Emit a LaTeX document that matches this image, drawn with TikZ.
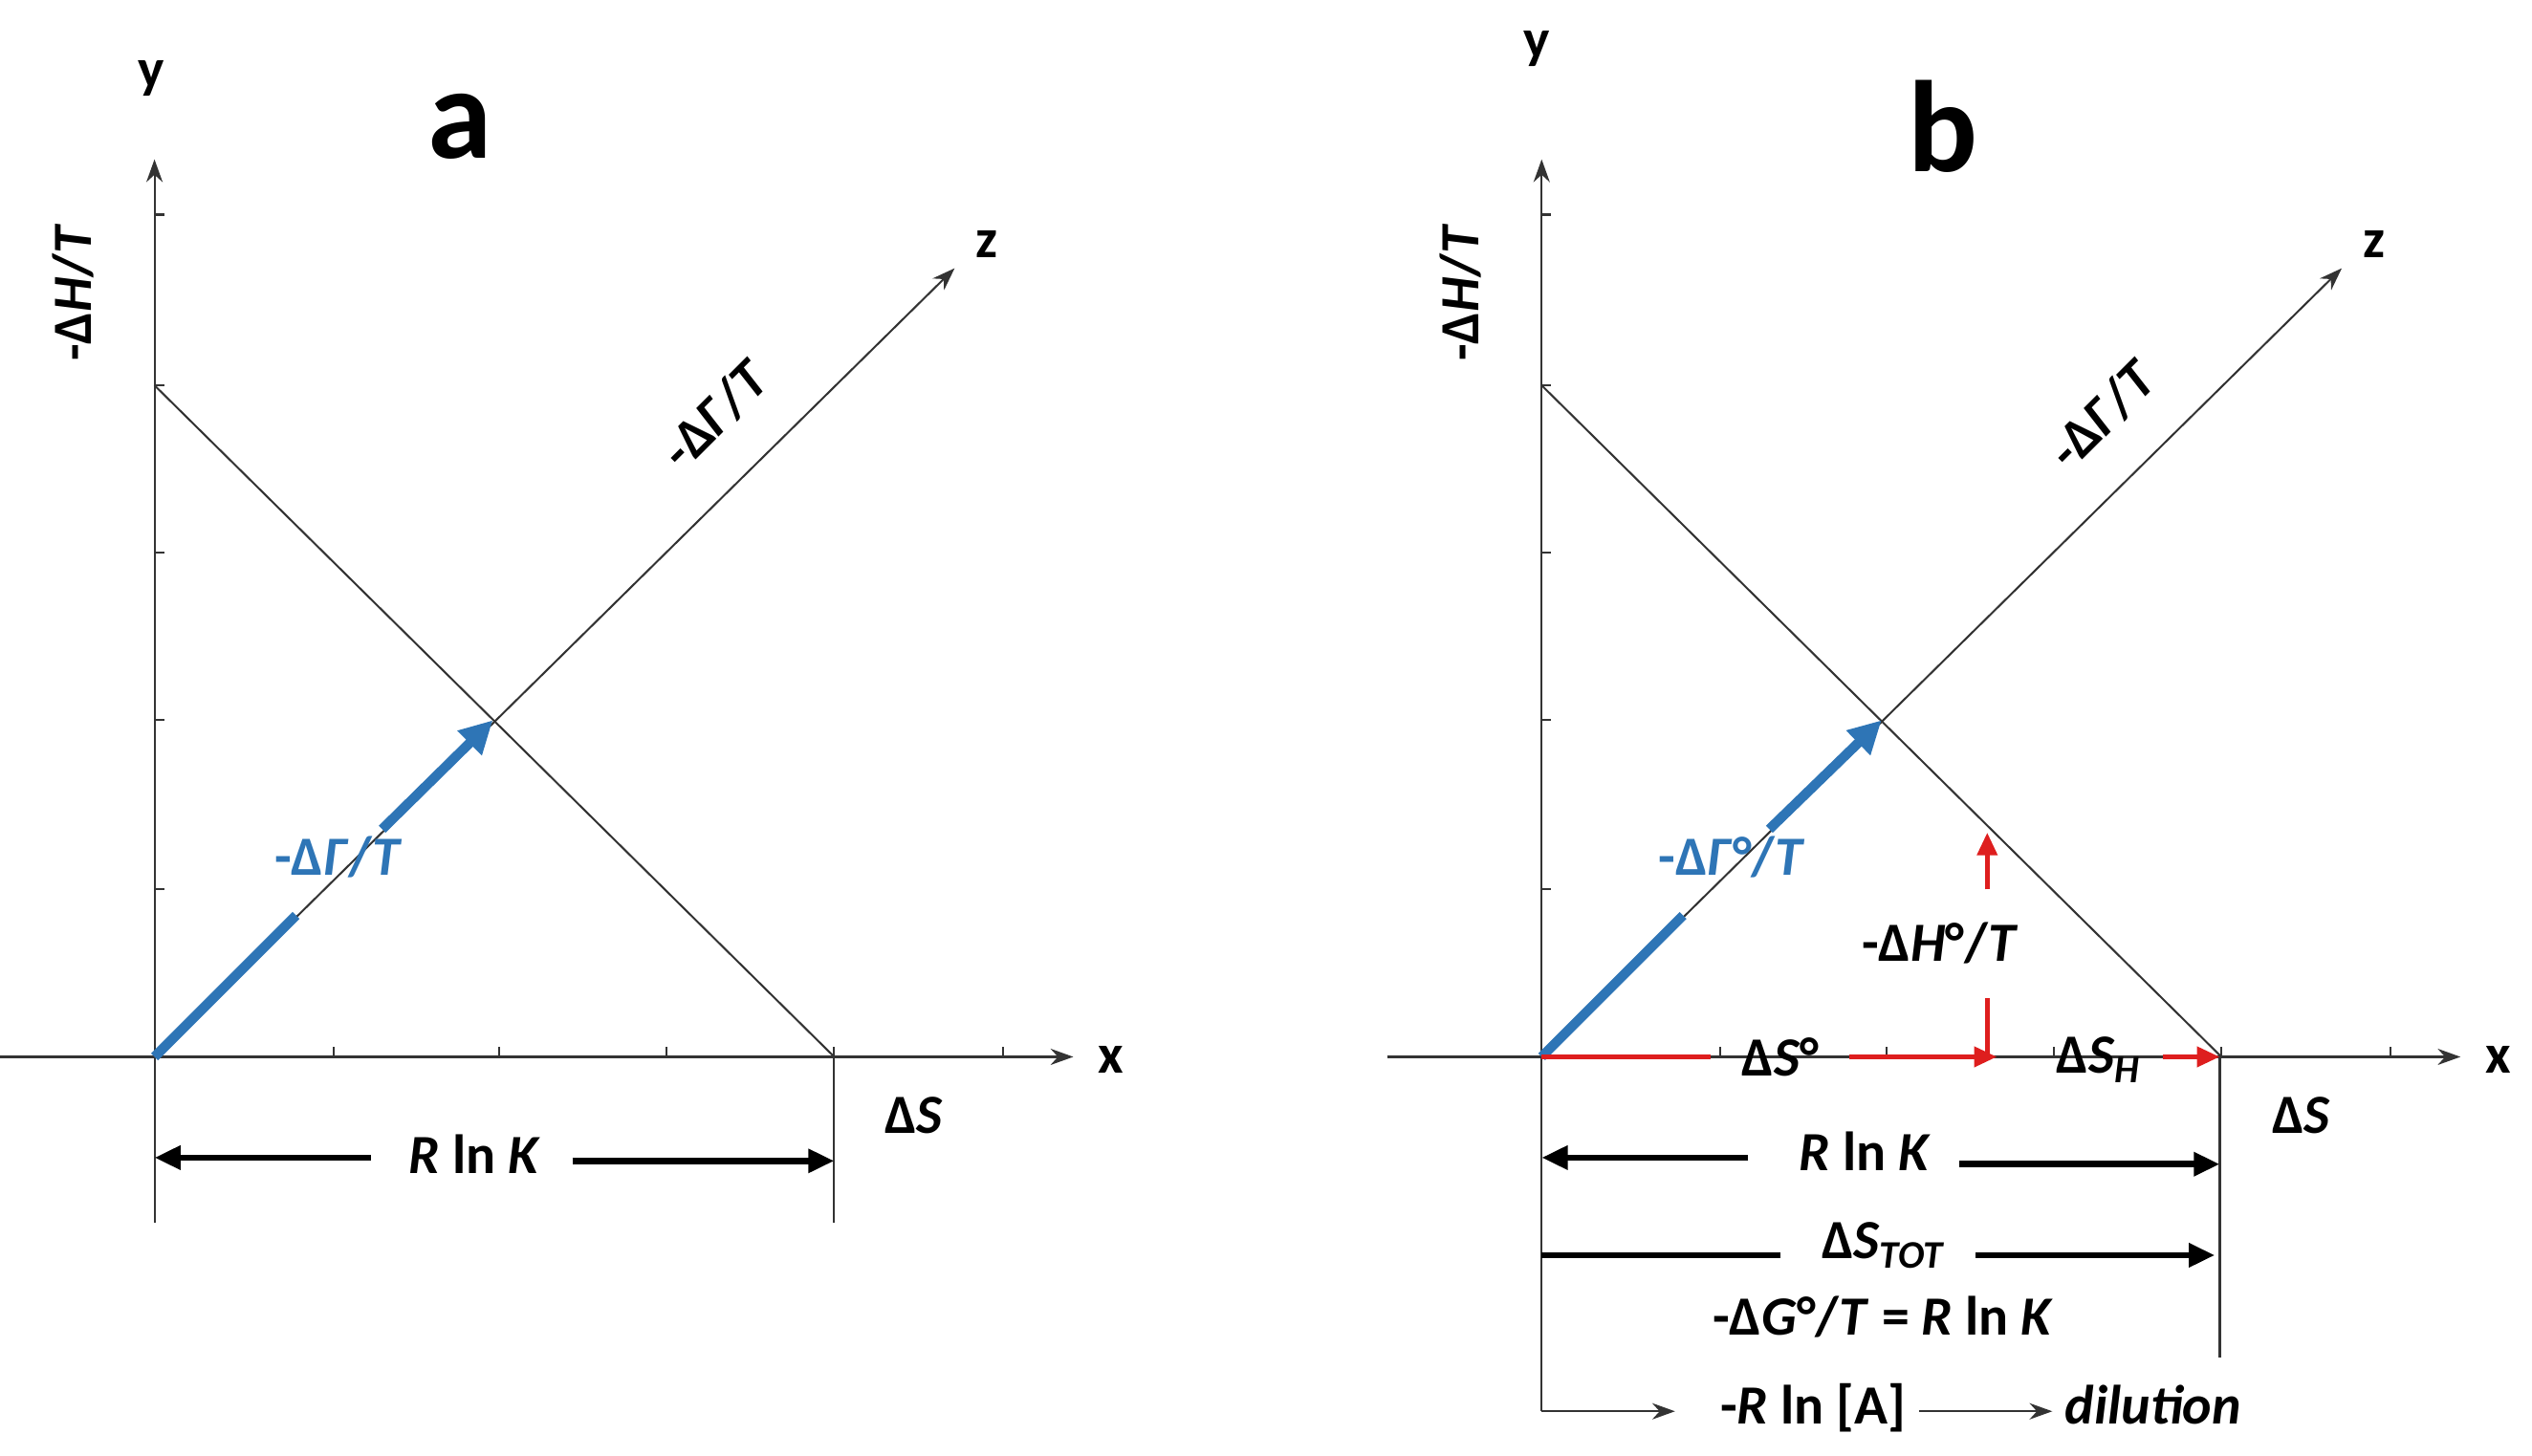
\documentclass[tikz,border=0pt]{standalone}
\usepackage{fontspec}
\setmainfont{Carlito}
\usetikzlibrary{arrows.meta}
\definecolor{bl}{RGB}{46,117,182}
\definecolor{rd}{RGB}{222,30,30}
\newcommand{\sbx}[1]{\raisebox{-0.35ex}{\fontsize{12}{14}\selectfont\textit{#1}}}
\tikzset{
 thinl/.style={line width=0.6pt,black!80},
 ax/.style={thinl,-{Stealth[length=7pt,width=5pt]}},
 lbl/.style={font=\fontsize{17}{20}\selectfont\bfseries, inner sep=1pt},
 big/.style={font=\fontsize{40}{44}\selectfont\bfseries},
 blarr/.style={line width=3pt,bl,-{Triangle[length=10pt,width=10pt]}},
 blk/.style={line width=2pt,-{Triangle[length=8pt,width=7pt]}},
 blkl/.style={line width=2pt},
 red/.style={line width=1.6pt,rd},
 redarr/.style={line width=1.6pt,rd,-{Triangle[length=7pt,width=6pt]}},
}
\begin{document}
\begin{tikzpicture}[x=0.5pt,y=-0.5pt]
\useasboundingbox (0,0) rectangle (1557,895);
\foreach \ox/\nm in {0/a,853/b}{
 \begin{scope}[xshift=\ox*0.5pt]
 \coordinate (O\nm) at (95,650);
 \draw[thinl] (95,650) -- (95,752);
 \draw[ax] (95,650) -- (95,98);
 \draw[ax] (0,650) -- (660,650);
 \foreach \t in {205,307,410,513,617} \draw[thinl] (\t,650) -- (\t,644);
 \foreach \t in {132,237,340,443,547} \draw[thinl] (95,\t) -- (101,\t);
 \draw[thinl] (95,237) -- (513,650);
 \draw[ax] (95,650) -- (587,165);
 \node[lbl,rotate=45] (g\nm) at (440,255) {-Δ\textit{Γ}/\textit{T}};
 \node[lbl,rotate=90] (h\nm) at (45,180) {-Δ\textit{H}/\textit{T}};
 \node[lbl] (x\nm) at (683,652) {x};
 \node[lbl] (z\nm) at (607,150) {z};
 \node[lbl] (ds\nm) at (562,686) {Δ\textit{S}};
 \end{scope}}
\node[lbl] (ya) at (93,48) {y};
\node[lbl] (yb) at (945,30) {y};
\node[big] (la) at (283,78) {a};
\node[big] (lb) at (1195,78) {b};
% panel a
\draw[thinl] (513,650) -- (513,752);
\draw[line width=3pt,bl] (95,650) -- (182,563);
\node[lbl,text=bl] (bta) at (208,527) {-Δ\textit{Γ}/\textit{T}};
\draw[blarr] (235,510) -- (303,443);
\node[lbl] (rka) at (292,710) {\textit{R} ln \textit{K}};
\draw[blk] (228,712) -- (95,712);
\draw[blk] (352,714) -- (513,714);
% panel b
\draw[thinl] (1365,650) -- (1365,835);
\draw[thinl] (948,752) -- (948,868);
\draw[line width=3pt,bl] (948,650) -- (1035,563);
\node[lbl,text=bl] (btb) at (1065,527) {-Δ\textit{Γ}°/\textit{T}};
\draw[blarr] (1088,510) -- (1157,443);
\node[lbl] (dso) at (1095,650) {Δ\textit{S}°};
\draw[red] (948,650) -- (1052,650);
\draw[redarr] (1137,650) -- (1228,650);
\draw[red] (1222,650) -- (1222,614);
\node[lbl] (dho) at (1193,580) {-Δ\textit{H}°/\textit{T}};
\draw[redarr] (1222,547) -- (1222,512);
\node[lbl] (dsh) at (1290,652) {Δ\textit{S}\sbx{H}};
\draw[redarr] (1330,650) -- (1365,650);
\node[lbl] (rkb) at (1147,708) {\textit{R} ln \textit{K}};
\draw[blk] (1075,712) -- (948,712);
\draw[blk] (1205,716) -- (1365,716);
\node[lbl] (dst) at (1158,766) {Δ\textit{S}\sbx{TOT}};
\draw[blkl] (948,772) -- (1095,772);
\draw[blk] (1215,772) -- (1362,772);
\node[lbl] (dg) at (1158,810) {-Δ\textit{G}°/\textit{T} = \textit{R} ln \textit{K}};
\node[lbl,inner sep=5pt] (rla) at (1115,866) {-\textit{R} ln [A]};
\node[lbl,inner sep=5pt] (dil) at (1324,864) {\textit{dilution}};
\draw[thinl,-{Stealth[length=7pt,width=5pt]}] (948,868) -- (1030,868);
\draw[thinl,-{Stealth[length=7pt,width=5pt]}] (1180,868) -- (1262,868);
\end{tikzpicture}
\end{document}
